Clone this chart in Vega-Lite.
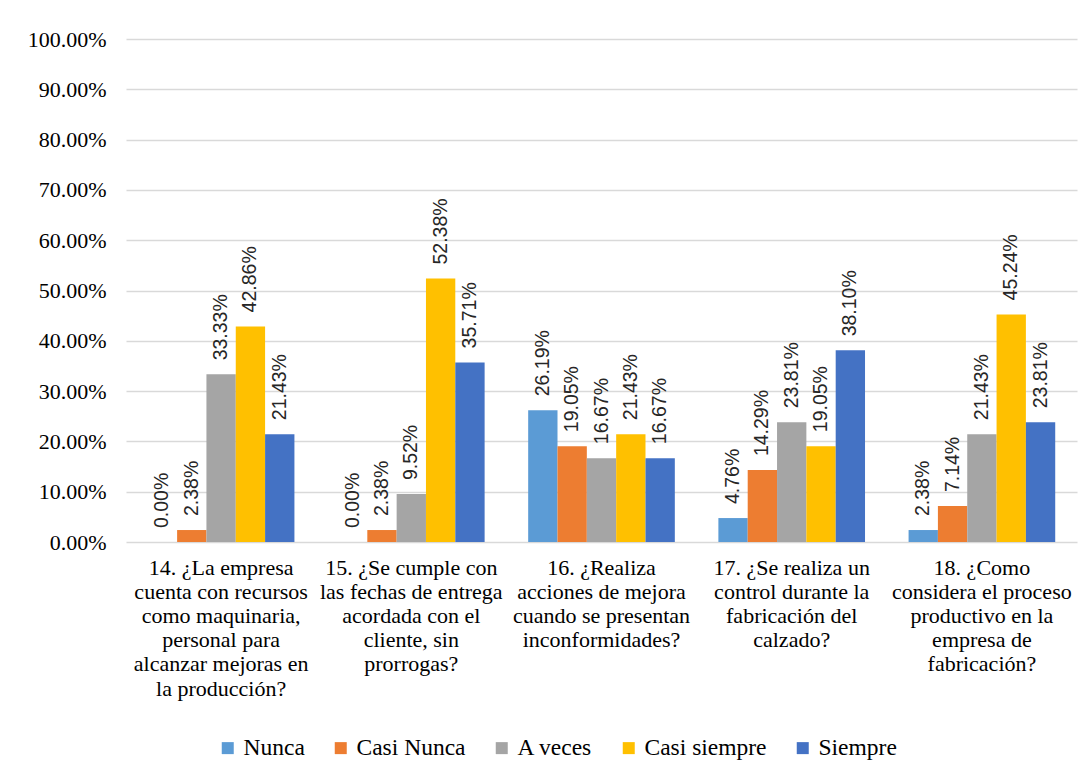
{
  "$schema": "https://vega.github.io/schema/vega-lite/v6.json",
  "width": 951,
  "height": 503,
  "autosize": {"type": "none"},
  "padding": {"left": 126, "top": 39, "right": 12, "bottom": 240},
  "background": "white",
  "config": {
    "view": {"stroke": null},
    "font": "'Liberation Serif', 'Times New Roman', serif"
  },
  "data": {
    "values": [
      {"q": "14. ¿La empresa|cuenta con recursos|como maquinaria,|personal para|alcanzar mejoras en|la producción?", "s": "Nunca", "v": 0},
      {"q": "14. ¿La empresa|cuenta con recursos|como maquinaria,|personal para|alcanzar mejoras en|la producción?", "s": "Casi Nunca", "v": 0.0238},
      {"q": "14. ¿La empresa|cuenta con recursos|como maquinaria,|personal para|alcanzar mejoras en|la producción?", "s": "A veces", "v": 0.3333},
      {"q": "14. ¿La empresa|cuenta con recursos|como maquinaria,|personal para|alcanzar mejoras en|la producción?", "s": "Casi siempre", "v": 0.4286},
      {"q": "14. ¿La empresa|cuenta con recursos|como maquinaria,|personal para|alcanzar mejoras en|la producción?", "s": "Siempre", "v": 0.2143},
      {"q": "15. ¿Se cumple con|las fechas de entrega|acordada con el|cliente, sin|prorrogas?", "s": "Nunca", "v": 0},
      {"q": "15. ¿Se cumple con|las fechas de entrega|acordada con el|cliente, sin|prorrogas?", "s": "Casi Nunca", "v": 0.0238},
      {"q": "15. ¿Se cumple con|las fechas de entrega|acordada con el|cliente, sin|prorrogas?", "s": "A veces", "v": 0.0952},
      {"q": "15. ¿Se cumple con|las fechas de entrega|acordada con el|cliente, sin|prorrogas?", "s": "Casi siempre", "v": 0.5238},
      {"q": "15. ¿Se cumple con|las fechas de entrega|acordada con el|cliente, sin|prorrogas?", "s": "Siempre", "v": 0.3571},
      {"q": "16. ¿Realiza|acciones de mejora|cuando se presentan|inconformidades?", "s": "Nunca", "v": 0.2619},
      {"q": "16. ¿Realiza|acciones de mejora|cuando se presentan|inconformidades?", "s": "Casi Nunca", "v": 0.1905},
      {"q": "16. ¿Realiza|acciones de mejora|cuando se presentan|inconformidades?", "s": "A veces", "v": 0.1667},
      {"q": "16. ¿Realiza|acciones de mejora|cuando se presentan|inconformidades?", "s": "Casi siempre", "v": 0.2143},
      {"q": "16. ¿Realiza|acciones de mejora|cuando se presentan|inconformidades?", "s": "Siempre", "v": 0.1667},
      {"q": "17. ¿Se realiza un|control durante la|fabricación del|calzado?", "s": "Nunca", "v": 0.0476},
      {"q": "17. ¿Se realiza un|control durante la|fabricación del|calzado?", "s": "Casi Nunca", "v": 0.1429},
      {"q": "17. ¿Se realiza un|control durante la|fabricación del|calzado?", "s": "A veces", "v": 0.2381},
      {"q": "17. ¿Se realiza un|control durante la|fabricación del|calzado?", "s": "Casi siempre", "v": 0.1905},
      {"q": "17. ¿Se realiza un|control durante la|fabricación del|calzado?", "s": "Siempre", "v": 0.3810},
      {"q": "18. ¿Como|considera el proceso|productivo en la|empresa de|fabricación?", "s": "Nunca", "v": 0.0238},
      {"q": "18. ¿Como|considera el proceso|productivo en la|empresa de|fabricación?", "s": "Casi Nunca", "v": 0.0714},
      {"q": "18. ¿Como|considera el proceso|productivo en la|empresa de|fabricación?", "s": "A veces", "v": 0.2143},
      {"q": "18. ¿Como|considera el proceso|productivo en la|empresa de|fabricación?", "s": "Casi siempre", "v": 0.4524},
      {"q": "18. ¿Como|considera el proceso|productivo en la|empresa de|fabricación?", "s": "Siempre", "v": 0.2381}
    ]
  },
  "encoding": {
    "x": {
      "field": "q", "type": "nominal", "sort": null,
      "scale": {"paddingInner": 0.229, "paddingOuter": 0.1145},
      "axis": {
        "title": null, "labelAngle": 0, "domain": false, "ticks": false,
        "labelExpr": "split(datum.label, '|')",
        "labelFont": "'Liberation Serif', 'Times New Roman', serif", "labelColor": "#000000",
        "labelFontSize": 22, "labelLineHeight": 24.2, "labelPadding": 15,
        "labelBaseline": "top", "labelLimit": 400
      }
    },
    "xOffset": {
      "field": "s", "type": "nominal", "sort": ["Nunca", "Casi Nunca", "A veces", "Casi siempre", "Siempre"],
      "scale": {"paddingInner": 0, "paddingOuter": 0}
    },
    "y": {
      "field": "v", "type": "quantitative",
      "scale": {"domain": [0, 1], "nice": false},
      "axis": {
        "title": null, "format": ".2%", "values": [0, 0.1, 0.2, 0.3, 0.4, 0.5, 0.6, 0.7, 0.8, 0.9, 1],
        "domain": false, "ticks": false, "labelFontSize": 22, "labelPadding": 20,
        "labelFont": "'Liberation Serif', 'Times New Roman', serif", "labelColor": "#000000",
        "gridColor": "#d9d9d9", "gridWidth": 1.5
      }
    }
  },
  "layer": [
    {
      "mark": {"type": "bar"},
      "encoding": {
        "color": {
          "field": "s", "type": "nominal",
          "sort": ["Nunca", "Casi Nunca", "A veces", "Casi siempre", "Siempre"],
          "scale": {"domain": ["Nunca", "Casi Nunca", "A veces", "Casi siempre", "Siempre"], "range": ["#5B9BD5", "#ED7D31", "#A5A5A5", "#FFC000", "#4472C4"]},
          "legend": {
            "title": null, "orient": "none", "legendX": 90, "legendY": 697, "direction": "horizontal",
            "symbolType": "square", "symbolSize": 144, "symbolStrokeWidth": 0,
            "labelFont": "'Liberation Serif', 'Times New Roman', serif", "labelFontSize": 23.5, "labelColor": "#000000",
            "labelOffset": 4, "columnPadding": 24, "padding": 0, "labelLimit": 300
          }
        }
      }
    },
    {
      "mark": {"type": "text", "angle": -90, "align": "left", "baseline": "middle", "dx": 14, "font": "Liberation Sans", "fontSize": 19.5, "color": "#262626"},
      "encoding": {
        "text": {"field": "v", "type": "quantitative", "format": ".2%"}
      }
    }
  ]
}
